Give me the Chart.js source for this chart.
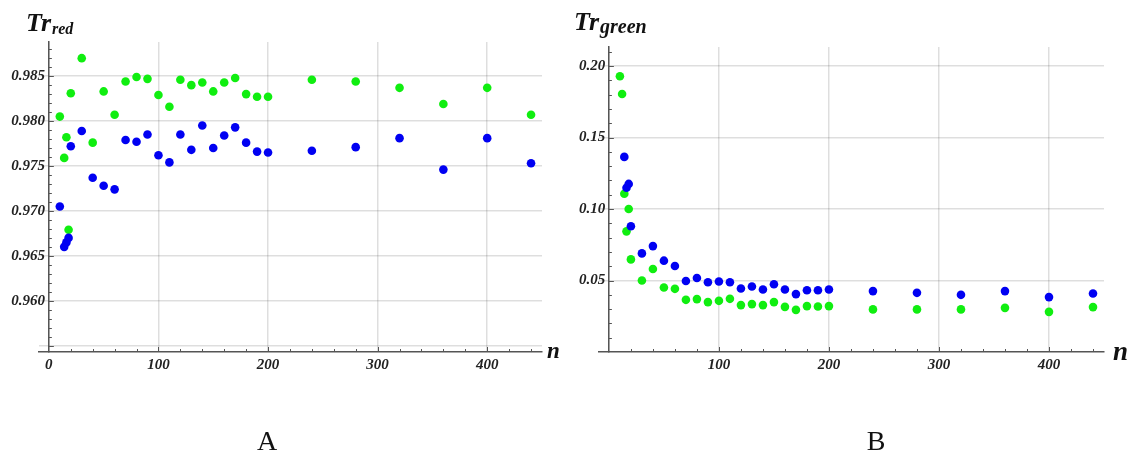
<!DOCTYPE html>
<html>
<head>
<meta charset="utf-8">
<title>Tr</title>
<script src="https://cdn.jsdelivr.net/npm/chart.js@4/dist/chart.umd.min.js"></script>
<style>
  body { margin: 0; background: #fff; }
  #wrap { position: relative; width: 1127px; height: 453px; overflow: hidden; }
  canvas { position: absolute; top: 0; }
  #chartA { left: 0; }
  #chartB { left: 560px; }
</style>
</head>
<body>
<div id="wrap">
  <canvas id="chartA" width="560" height="453"></canvas>
  <canvas id="chartB" width="567" height="453"></canvas>
</div>
<script>
// panel A: red channel
var nA = [10, 14, 16, 18, 20, 30, 40, 50, 60, 70, 80, 90, 100, 110, 120, 130, 140, 150,
          160, 170, 180, 190, 200, 240, 280, 320, 360, 400, 440];
var redBlue = [0.9705, 0.9660, 0.9665, 0.9670, 0.9772, 0.9789, 0.9737, 0.9728, 0.9724, 0.9779,
               0.9777, 0.9785, 0.9762, 0.9754, 0.9785, 0.9768, 0.9795, 0.9770, 0.9784, 0.9793,
               0.9776, 0.9766, 0.9765, 0.9767, 0.9771, 0.9781, 0.9746, 0.9781, 0.9753];
var redGreen = [0.9805, 0.9759, 0.9782, 0.9679, 0.9831, 0.9870, 0.9776, 0.9833, 0.9807, 0.9844,
                0.9849, 0.9847, 0.9829, 0.9816, 0.9846, 0.9840, 0.9843, 0.9833, 0.9843, 0.9848,
                0.9830, 0.9827, 0.9827, 0.9846, 0.9844, 0.9837, 0.9819, 0.9837, 0.9807];

// panel B: green channel
var nB = [10, 12, 14, 16, 18, 20, 30, 40, 50, 60, 70, 80, 90, 100, 110, 120, 130, 140, 150,
          160, 170, 180, 190, 200, 240, 280, 320, 360, 400, 440];
var greenBlue = [null, null, 0.1365, 0.1149, 0.1176, 0.0880, 0.0690, 0.0741, 0.0639, 0.0602,
                 0.0497, 0.0518, 0.0488, 0.0493, 0.0488, 0.0444, 0.0458, 0.0437, 0.0474, 0.0437,
                 0.0405, 0.0432, 0.0432, 0.0437, 0.0426, 0.0414, 0.0400, 0.0426, 0.0384, 0.0409];
var greenGreen = [0.1929, 0.1805, 0.1107, 0.0844, 0.1001, 0.0648, 0.0500, 0.0581, 0.0451, 0.0442,
                  0.0365, 0.0370, 0.0349, 0.0358, 0.0372, 0.0328, 0.0335, 0.0328, 0.0349, 0.0316,
                  0.0295, 0.0321, 0.0318, 0.0321, 0.0298, 0.0298, 0.0298, 0.0309, 0.0281, 0.0314];

// axes
var xTicks = [0, 100, 200, 300, 400];
var xLabelsA = ['0', '100', '200', '300', '400'];
var xLabelsB = ['', '100', '200', '300', '400'];
var yTicksA = [0.955, 0.960, 0.965, 0.970, 0.975, 0.980, 0.985];
var yLabelsA = ['', '0.960', '0.965', '0.970', '0.975', '0.980', '0.985'];
var yTicksB = [0.05, 0.10, 0.15, 0.20];
var yLabelsB = ['0.05', '0.10', '0.15', '0.20'];

var SERIF = '"Liberation Serif", "DejaVu Serif", serif';
var AXIS = '#555';
var GRID = 'rgba(0,0,0,0.13)';
var X_AXIS_H = 30;

function points(xs, ys) {
  var out = [];
  for (var i = 0; i < xs.length; i++) {
    if (ys[i] !== null) out.push({ x: xs[i], y: ys[i] });
  }
  return out;
}

function steps(from, to, step) {
  var out = [];
  for (var v = from; v <= to + step / 2; v += step) out.push(+v.toFixed(6));
  return out;
}

// inward tick marks, axis label and panel text (Mathematica look)
var decor = {
  id: 'decor',
  afterDraw: function(chart, args, o) {
    var ctx = chart.ctx, area = chart.chartArea;
    var sx = chart.scales.x, sy = chart.scales.y;
    var x0 = sx.getPixelForValue(0);
    ctx.save();
    ctx.strokeStyle = AXIS;
    ctx.lineWidth = 1;
    o.yMinor.forEach(function(v) {
      var py = Math.round(sy.getPixelForValue(v)) + 0.5;
      var len = o.yMajor.some(function(m) { return Math.abs(m - v) < 1e-9; }) ? 5 : 3;
      ctx.beginPath(); ctx.moveTo(x0, py); ctx.lineTo(x0 + len, py); ctx.stroke();
    });
    o.xMinor.forEach(function(v) {
      var px = Math.round(sx.getPixelForValue(v)) + 0.5;
      var len = v % 100 === 0 ? 5 : 3;
      ctx.beginPath(); ctx.moveTo(px, area.bottom); ctx.lineTo(px, area.bottom - len); ctx.stroke();
    });

    ctx.fillStyle = '#111';
    ctx.textAlign = 'left';
    ctx.textBaseline = 'alphabetic';
    ctx.font = 'italic bold 26px ' + SERIF;
    ctx.fillText('Tr', o.titleX, o.titleY);
    var w = ctx.measureText('Tr').width;
    ctx.font = 'italic bold ' + o.subSize + 'px ' + SERIF;
    ctx.fillText(o.sub, o.titleX + w + 1, o.titleY + 3);

    ctx.font = 'italic bold ' + o.nSize + 'px ' + SERIF;
    ctx.fillText('n', o.nX, o.nY);

    ctx.font = '28px ' + SERIF;
    ctx.textAlign = 'center';
    ctx.fillText(o.panel, o.panelX, 450);
    ctx.restore();
  }
};

function build(id, ns, blue, green, yMin, yMax, yTicks, yLabels, xLabels, pad, extra) {
  var tickFont = { family: SERIF, size: 15, style: 'italic', weight: 'bold' };
  return new Chart(document.getElementById(id), {
    type: 'scatter',
    data: {
      datasets: [
        { data: points(ns, blue), backgroundColor: '#0000f2', pointRadius: 4.3, borderWidth: 0 },
        { data: points(ns, green), backgroundColor: '#10ee10', pointRadius: 4.3, borderWidth: 0 }
      ]
    },
    options: {
      responsive: false,
      animation: false,
      layout: { padding: pad },
      plugins: { legend: { display: false }, tooltip: { enabled: false }, decor: extra },
      scales: {
        x: {
          type: 'linear', min: -9, max: 450,
          afterBuildTicks: function(s) { s.ticks = xTicks.map(function(v) { return { value: v }; }); },
          afterFit: function(s) { s.height = X_AXIS_H; },
          grid: { color: GRID, lineWidth: 1.5, drawTicks: false },
          border: { color: AXIS, width: 1.5 },
          ticks: { padding: 4, font: tickFont, color: '#222', maxRotation: 0, autoSkip: false,
                   callback: function(v, i) { return xLabels[i]; } }
        },
        y: {
          type: 'linear', position: { x: 0 }, min: yMin, max: yMax,
          afterBuildTicks: function(s) { s.ticks = yTicks.map(function(v) { return { value: v }; }); },
          afterFit: function(s) { s.width = 0; },
          grid: { color: GRID, lineWidth: 1.5, drawTicks: false },
          border: { color: AXIS, width: 1.5 },
          ticks: { font: tickFont, color: '#222', autoSkip: false,
                   callback: function(v, i) { return yLabels[i] ? yLabels[i] + ' ' : ''; } }
        }
      }
    },
    plugins: [decor]
  });
}

build('chartA', nA, redBlue, redGreen, 0.9543, 0.9888, yTicksA, yLabelsA, xLabelsA,
      { left: 39, right: 18, top: 42, bottom: 101 - X_AXIS_H },
      { yMajor: yTicksA, yMinor: steps(0.955, 0.988, 0.001), xMinor: steps(20, 440, 20),
        titleX: 26, titleY: 31, sub: 'red', subSize: 16, nX: 547, nY: 358, nSize: 23,
        panel: 'A', panelX: 267 });

build('chartB', nB, greenBlue, greenGreen, 0, 0.2134, yTicksB, yLabelsB, xLabelsB,
      { left: 39, right: 23, top: 47, bottom: 101 - X_AXIS_H },
      { yMajor: yTicksB, yMinor: steps(0.01, 0.21, 0.01), xMinor: steps(20, 440, 20),
        titleX: 14, titleY: 30, sub: 'green', subSize: 20, nX: 553, nY: 360, nSize: 27,
        panel: 'B', panelX: 316 });
</script>
</body>
</html>
